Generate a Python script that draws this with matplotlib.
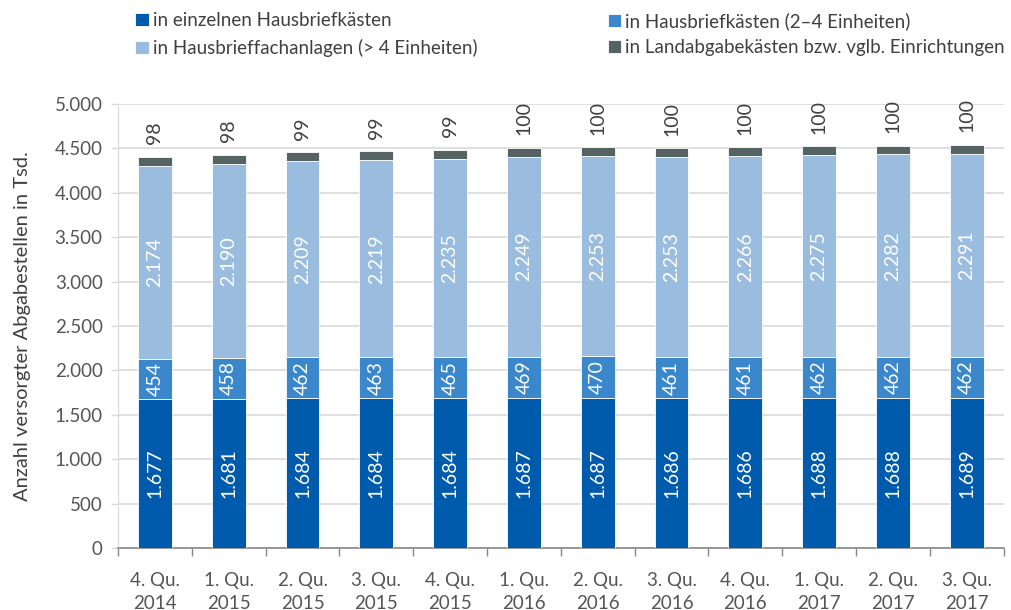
import matplotlib
matplotlib.use('Agg')
from matplotlib import pyplot as plt
import numpy as np

plt.rcParams['font.family'] = ['Lato', 'DejaVu Sans']

quarters = ['4. Qu.\n2014', '1. Qu.\n2015', '2. Qu.\n2015', '3. Qu.\n2015', '4. Qu.\n2015',
            '1. Qu.\n2016', '2. Qu.\n2016', '3. Qu.\n2016', '4. Qu.\n2016', '1. Qu.\n2017',
            '2. Qu.\n2017', '3. Qu.\n2017']
einzeln = [1677, 1681, 1684, 1684, 1684, 1687, 1687, 1686, 1686, 1688, 1688, 1689]
klein = [454, 458, 462, 463, 465, 469, 470, 461, 461, 462, 462, 462]
anlagen = [2174, 2190, 2209, 2219, 2235, 2249, 2253, 2253, 2266, 2275, 2282, 2291]
land = [98, 98, 99, 99, 99, 100, 100, 100, 100, 100, 100, 100]

series = [
    ('in einzelnen Hausbriefkästen', einzeln, '#005BAC'),
    ('in Hausbriefkästen (2–4 Einheiten)', klein, '#3A87CB'),
    ('in Hausbrieffachanlagen (> 4 Einheiten)', anlagen, '#9ABDDF'),
    ('in Landabgabekästen bzw. vglb. Einrichtungen', land, '#566363'),
]


def de(v):
    return f'{v:,.0f}'.replace(',', '.')


fig = plt.figure(figsize=(10.11, 6.10), dpi=100)
ax = fig.add_axes([0.1167, 0.1016, 0.876, 0.728])

x = np.arange(len(quarters))
bottom = np.zeros(len(quarters))
bars = {}
for name, vals, col in series:
    vals = np.array(vals, dtype=float)
    bars[name] = ax.bar(x, vals, 0.46, bottom=bottom, color=col, label=name,
                        edgecolor='white', linewidth=0.6, zorder=3)
    if name != series[3][0]:
        for xi, b, v in zip(x, bottom, vals):
            ax.text(xi, b + v / 2, de(v), rotation=90, ha='center', va='center',
                    color='white', fontsize=14, zorder=4)
    else:
        for xi, b, v in zip(x, bottom, vals):
            ax.annotate(de(v), (xi, b + v), xytext=(0, 9), textcoords='offset points',
                        rotation=90, ha='center', va='bottom', color='#404040',
                        fontsize=14)
    bottom += vals

ax.set_xlim(-0.5, len(quarters) - 0.5)
ax.set_ylim(0, 5000)
ax.set_yticks(np.arange(0, 5001, 500))
ax.set_yticklabels([de(v) for v in np.arange(0, 5001, 500)], fontsize=13.5, color='#555555')
ax.set_xticks(x)
ax.set_xticklabels(quarters, fontsize=13.5, color='#555555', linespacing=1.45)
ax.set_xticks(np.arange(-0.5, len(quarters), 1), minor=True)
ax.tick_params(axis='x', which='major', length=0, pad=17)
ax.tick_params(axis='x', which='minor', length=6, color='#888888', width=1)
ax.tick_params(axis='y', length=5, color='#d9d9d9', width=1, pad=6)
ax.grid(axis='y', color='#d9d9d9', linewidth=1.2, zorder=0)
for s in ['top', 'right']:
    ax.spines[s].set_visible(False)
ax.spines['left'].set_color('#d9d9d9')
ax.spines['bottom'].set_color('#888888')
ax.spines['bottom'].set_linewidth(1.2)
ax.set_ylabel('Anzahl versorgter Abgabestellen in Tsd.', fontsize=14.5, color='#404040', labelpad=17)

# legend: two columns placed separately
leg_kw = dict(loc='upper left', frameon=False, fontsize=13.5, handlelength=0.7, handleheight=0.7,
              handletextpad=0.25, labelspacing=0.5, labelcolor='#404040',
              borderpad=0, borderaxespad=0)
col1 = [series[0][0], series[2][0]]
col2 = [series[1][0], series[3][0]]
fig.legend([bars[n] for n in col1], col1, bbox_to_anchor=(0.134, 0.98), **leg_kw)
fig.legend([bars[n] for n in col2], col2, bbox_to_anchor=(0.601, 0.98), **leg_kw)

fig.savefig('out.png', dpi=100)
